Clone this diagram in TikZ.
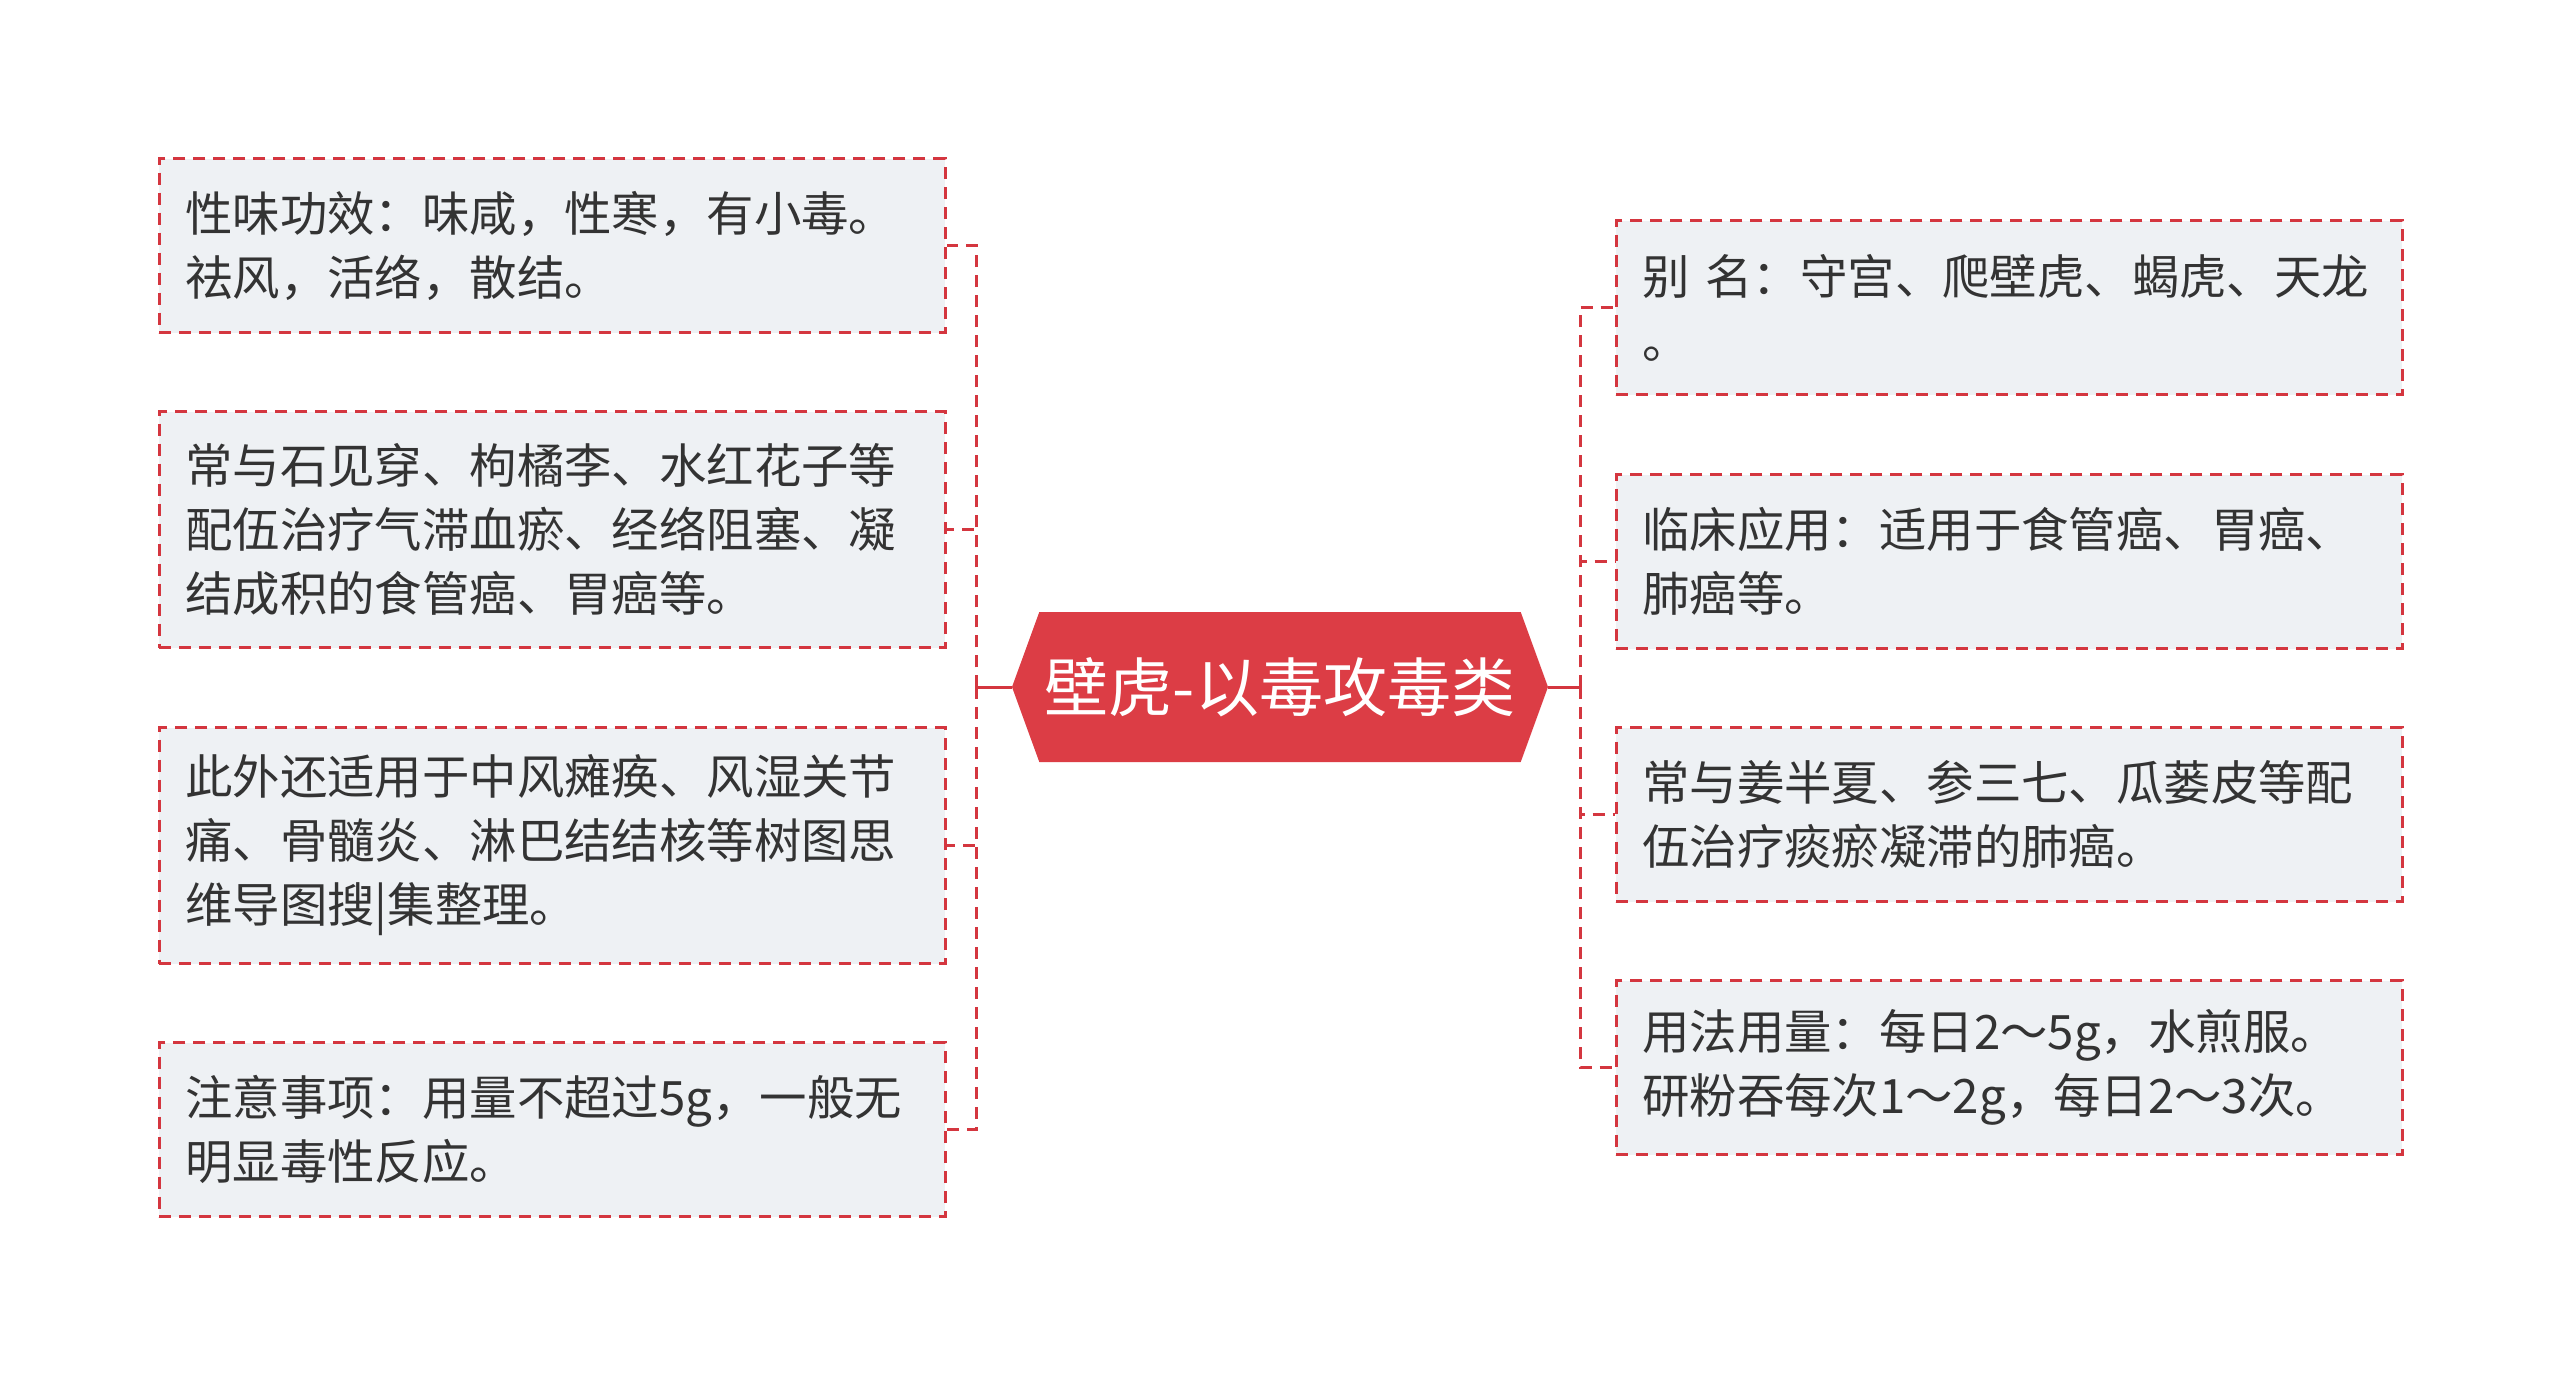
\documentclass[tikz,border=0pt]{standalone}
\usepackage{fontspec}
\setmainfont{Noto Sans CJK SC}
\usetikzlibrary{shapes.symbols}
\definecolor{redline}{HTML}{D4363F}
\definecolor{rootred}{HTML}{DC3D45}
\definecolor{leafgray}{HTML}{EEF1F4}
\definecolor{textgray}{HTML}{333333}
\tikzset{
  leaf/.style={draw=redline, fill=leafgray, line width=1.25pt, dash pattern=on 6pt off 4pt,
    text=textgray, font=\fontsize{23.7pt}{32pt}\selectfont, text width=367pt, align=left,
    inner xsep=13pt, inner ysep=0pt, minimum height=87pt},
  leafiii/.style={leaf, minimum height=118pt},
  link/.style={draw=redline, line width=1.5pt, dash pattern=on 6pt off 4pt},
  trunk/.style={draw=redline, line width=1.5pt},
  rootnode/.style={signal, signal to=east and west, signal pointer angle=140, fill=rootred,
    text=white, font=\fontsize{32pt}{36pt}\selectfont, minimum width=268pt, minimum height=75pt, inner sep=0pt}
}
\begin{document}
\begin{tikzpicture}[x=0.5pt,y=-0.5pt]
    \fill[white] (0,0) rectangle (2560,1377);
    \useasboundingbox (0,0) rectangle (2560,1377);
    \node[rootnode] (root) at (1280,687) {壁虎-以毒攻毒类};
    \coordinate (lhub) at (976,687);
    \coordinate (rhub) at (1580,687);
    % left side
    \node[leaf, anchor=west] (l1) at (158,245.5) {性味功效：味咸，性寒，有小毒。\\祛风，活络，散结。};
    \node[leafiii, anchor=west] (l2) at (158,529.5) {常与石见穿、枸橘李、水红花子等\\配伍治疗气滞血瘀、经络阻塞、凝\\结成积的食管癌、胃癌等。};
    \node[leafiii, anchor=west] (l3) at (158,845.5) {此外还适用于中风瘫痪、风湿关节\\痛、骨髓炎、淋巴结结核等树图思\\维导图搜|集整理。};
    \node[leaf, anchor=west] (l4) at (158,1129.5) {注意事项：用量不超过5g，一般无\\明显毒性反应。};
    % right side
    \node[leaf, anchor=west] (r1) at (1615,307.5) {别 名：守宫、爬壁虎、蝎虎、天龙\\。};
    \node[leaf, anchor=west] (r2) at (1615,561.5) {临床应用：适用于食管癌、胃癌、\\肺癌等。};
    \node[leaf, anchor=west] (r3) at (1615,814.5) {常与姜半夏、参三七、瓜蒌皮等配\\伍治疗痰瘀凝滞的肺癌。};
    \node[leaf, anchor=west] (r4) at (1615,1067.5) {用法用量：每日2～5g，水煎服。\\研粉吞每次1～2g，每日2～3次。};
    \draw[trunk] (root.west) -- (lhub);
    \draw[trunk] (root.east) -- (rhub);
    \foreach \n in {l1,l2,l3,l4} \draw[link] (lhub) |- (\n.east);
    \foreach \n in {r1,r2,r3,r4} \draw[link] (rhub) |- (\n.west);
\end{tikzpicture}
\end{document}
